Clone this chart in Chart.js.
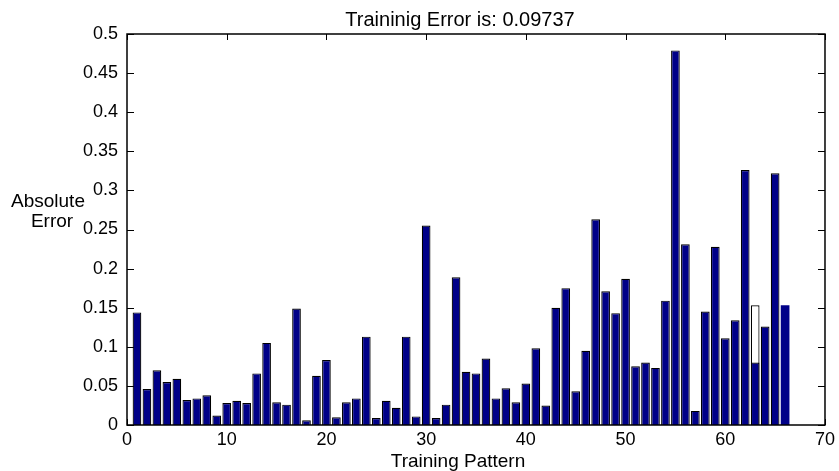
<!DOCTYPE html>
<html>
<head>
<meta charset="utf-8">
<script src="https://cdn.jsdelivr.net/npm/chart.js@4"></script>
<style>
  body { margin: 0; background: #fff; }
  #wrap { width: 839px; height: 471px; }
</style>
</head>
<body>
<div id="wrap"><canvas id="errChart" width="839" height="471"></canvas></div>
<script>
'use strict';

// data
let patterns = [1, 2, 3, 4, 5, 6, 7, 8, 9, 10, 11, 12, 13, 14, 15, 16, 17, 18, 19, 20,
  21, 22, 23, 24, 25, 26, 27, 28, 29, 30, 31, 32, 33, 34, 35, 36, 37, 38, 39, 40,
  41, 42, 43, 44, 45, 46, 47, 48, 49, 50, 51, 52, 53, 54, 55, 56, 57, 58, 59, 60,
  61, 62, 63, 64, 65, 66];
let absError = [0.144, 0.046, 0.070, 0.055, 0.059, 0.032, 0.034, 0.038, 0.012, 0.028,
  0.031, 0.028, 0.066, 0.105, 0.029, 0.026, 0.149, 0.006, 0.063, 0.083,
  0.010, 0.029, 0.034, 0.113, 0.009, 0.031, 0.022, 0.113, 0.011, 0.255,
  0.009, 0.026, 0.189, 0.068, 0.066, 0.085, 0.034, 0.047, 0.029, 0.053,
  0.098, 0.025, 0.150, 0.175, 0.043, 0.095, 0.263, 0.171, 0.143, 0.187,
  0.075, 0.080, 0.073, 0.159, 0.479, 0.231, 0.018, 0.145, 0.228, 0.111,
  0.134, 0.326, 0.080, 0.126, 0.322, 0.153];
// the white outlined bar behind pattern 63
let outlinePattern = [63];
let outlineValue = [0.153];

let xTicks = [0, 10, 20, 30, 40, 50, 60, 70];
let yTicks = [0, 0.05, 0.1, 0.15, 0.2, 0.25, 0.3, 0.35, 0.4, 0.45, 0.5];
let yTickLabels = ['0', '0.05', '0.1', '0.15', '0.2', '0.25', '0.3', '0.35', '0.4', '0.45', '0.5'];

let titleText = 'Traininig Error is: 0.09737';
let xTitle = 'Training Pattern';
let yTitle = ['Absolute', 'Error'];

const FONT = '"Liberation Sans", Arial, Helvetica, sans-serif';
Chart.defaults.font.family = FONT;
Chart.defaults.font.size = 18;
Chart.defaults.color = '#000';

// matlab style: ticks pointing inside, box all round
const inTicks = {
  id: 'inTicks',
  beforeDatasetsDraw(chart) {
    const { ctx, chartArea: a, scales: { x, y } } = chart;
    ctx.save();
    ctx.strokeStyle = '#000';
    ctx.lineWidth = 1;
    ctx.beginPath();
    xTicks.forEach(v => {
      const px = Math.round(x.getPixelForValue(v)) + 0.5;
      ctx.moveTo(px, a.bottom); ctx.lineTo(px, a.bottom - 6);
      ctx.moveTo(px, a.top); ctx.lineTo(px, a.top + 6);
    });
    yTicks.forEach(v => {
      const py = Math.round(y.getPixelForValue(v)) + 0.5;
      ctx.moveTo(a.left, py); ctx.lineTo(a.left + 7, py);
      ctx.moveTo(a.right, py); ctx.lineTo(a.right - 7, py);
    });
    ctx.stroke();
    ctx.restore();
  },
  afterDraw(chart) {
    const { ctx, chartArea: a } = chart;
    ctx.save();
    ctx.strokeStyle = '#000';
    ctx.lineWidth = 1.5;
    ctx.strokeRect(a.left, a.top, a.right - a.left, a.bottom - a.top);

    ctx.fillStyle = '#000';
    ctx.textAlign = 'center';
    ctx.textBaseline = 'alphabetic';
    ctx.font = '20px ' + FONT;
    ctx.fillText(titleText, 460, 26);
    ctx.font = '19px ' + FONT;
    ctx.fillText(xTitle, 458, 467);
    ctx.fillText(yTitle[0], 48, 207);
    ctx.fillText(yTitle[1], 52, 227);
    ctx.restore();
  }
};

new Chart('errChart', {
  type: 'bar',
  data: {
    labels: patterns,
    datasets: [{
      data: absError,
      backgroundColor: '#000088',
      borderColor: '#000',
      borderWidth: ctx => (ctx.dataIndex === patterns.length - 1 ? 0 : 1.2),
      grouped: false,
      order: 0,
      barPercentage: 0.87,
      categoryPercentage: 1
    }, {
      data: outlinePattern.map((p, i) => ({ x: p, y: outlineValue[i] })),
      backgroundColor: '#fff',
      borderColor: '#000',
      borderWidth: 1.2,
      grouped: false,
      order: 1,
      barPercentage: 0.87,
      categoryPercentage: 1
    }]
  },
  options: {
    responsive: false,
    animation: false,
    devicePixelRatio: 1,
    layout: { padding: { top: 34, right: 12, left: 0, bottom: 0 } },
    plugins: {
      legend: { display: false },
      tooltip: { enabled: false },
      title: { display: false }
    },
    scales: {
      x: {
        type: 'linear',
        min: 0,
        max: 70,
        offset: false,
        afterBuildTicks: s => { s.ticks = xTicks.map(v => ({ value: v })); },
        afterFit: s => { s.height = 46; },
        ticks: { padding: 4, maxRotation: 0 },
        grid: { display: false, drawTicks: false, offset: false },
        border: { display: false }
      },
      y: {
        min: 0,
        max: 0.5,
        afterBuildTicks: s => { s.ticks = yTicks.map(v => ({ value: v })); },
        afterFit: s => { s.width = 127; },
        ticks: {
          padding: 9,
          callback: (v, i) => yTickLabels[i]
        },
        grid: { display: false, drawTicks: false },
        border: { display: false }
      }
    }
  },
  plugins: [inTicks]
});
</script>
</body>
</html>
